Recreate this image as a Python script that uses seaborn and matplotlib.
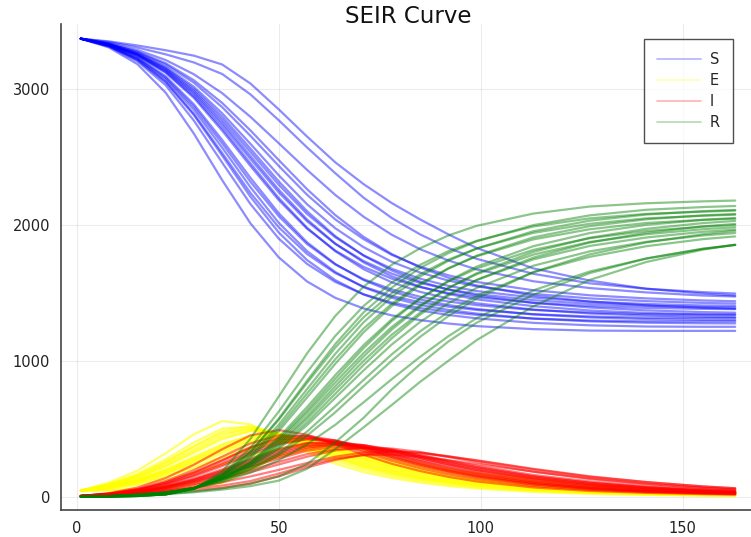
import pandas as pd
import numpy as np
import matplotlib
matplotlib.use('Agg')
import matplotlib.pyplot as plt
from matplotlib.lines import Line2D
import seaborn as sns

sns.set_theme(style='white')
plt.rcParams['font.family'] = ['DejaVu Sans']

# sampled days of the simulation
days = [1, 8, 15, 22, 29, 36, 43, 50, 57, 64, 71, 78, 85, 92, 99, 113, 127, 141, 155, 163]

# one list per stochastic run
S_runs = [
    [3370, 3305, 3183, 2973, 2671, 2329, 2011, 1761, 1584, 1463, 1385, 1334, 1299, 1274, 1255, 1233, 1222, 1220, 1220, 1220],
    [3370, 3312, 3204, 3028, 2767, 2458, 2153, 1899, 1713, 1580, 1489, 1428, 1388, 1359, 1338, 1311, 1296, 1290, 1290, 1290],
    [3370, 3316, 3217, 3056, 2818, 2529, 2235, 1982, 1786, 1645, 1545, 1477, 1430, 1398, 1374, 1343, 1326, 1317, 1315, 1315],
    [3370, 3314, 3213, 3049, 2807, 2510, 2207, 1944, 1741, 1593, 1488, 1418, 1370, 1337, 1312, 1279, 1261, 1252, 1250, 1250],
    [3370, 3318, 3222, 3072, 2847, 2568, 2277, 2015, 1807, 1653, 1541, 1464, 1411, 1374, 1347, 1310, 1290, 1280, 1276, 1275],
    [3370, 3320, 3229, 3083, 2869, 2600, 2317, 2064, 1859, 1709, 1600, 1525, 1471, 1436, 1409, 1374, 1355, 1343, 1340, 1340],
    [3370, 3321, 3232, 3094, 2887, 2625, 2346, 2086, 1872, 1712, 1594, 1509, 1451, 1410, 1381, 1341, 1319, 1307, 1301, 1300],
    [3370, 3325, 3245, 3119, 2934, 2693, 2433, 2182, 1972, 1811, 1691, 1604, 1542, 1498, 1468, 1427, 1403, 1389, 1382, 1380],
    [3370, 3325, 3246, 3125, 2945, 2711, 2453, 2198, 1979, 1806, 1674, 1577, 1507, 1458, 1423, 1377, 1348, 1333, 1324, 1321],
    [3370, 3327, 3251, 3133, 2960, 2734, 2485, 2239, 2027, 1860, 1734, 1641, 1573, 1525, 1491, 1446, 1419, 1404, 1395, 1392],
    [3370, 3327, 3253, 3140, 2973, 2754, 2507, 2259, 2040, 1862, 1724, 1621, 1545, 1491, 1452, 1402, 1370, 1352, 1341, 1338],
    [3370, 3328, 3257, 3147, 2986, 2775, 2536, 2295, 2081, 1909, 1776, 1677, 1604, 1551, 1513, 1465, 1435, 1418, 1407, 1404],
    [3370, 3329, 3259, 3154, 3000, 2797, 2561, 2320, 2101, 1917, 1774, 1664, 1582, 1524, 1480, 1426, 1392, 1371, 1358, 1354],
    [3370, 3330, 3264, 3163, 3016, 2821, 2596, 2365, 2152, 1975, 1836, 1728, 1649, 1590, 1547, 1492, 1459, 1439, 1426, 1421],
    [3370, 3332, 3271, 3179, 3046, 2866, 2655, 2434, 2222, 2040, 1895, 1779, 1693, 1629, 1580, 1519, 1482, 1459, 1444, 1438],
    [3370, 3333, 3275, 3190, 3064, 2897, 2695, 2477, 2263, 2072, 1912, 1785, 1686, 1611, 1554, 1479, 1436, 1408, 1390, 1383],
    [3370, 3337, 3287, 3213, 3108, 2969, 2795, 2601, 2405, 2220, 2060, 1927, 1821, 1738, 1672, 1585, 1535, 1503, 1480, 1473],
    [3370, 3345, 3305, 3255, 3195, 3110, 2960, 2770, 2570, 2380, 2200, 2050, 1930, 1830, 1750, 1640, 1570, 1530, 1505, 1495],
    [3370, 3350, 3320, 3285, 3245, 3180, 3040, 2850, 2650, 2460, 2300, 2160, 2040, 1930, 1830, 1680, 1590, 1530, 1495, 1480],
]

E_runs = [
    [45, 104, 191, 319, 459, 556, 532, 432, 326, 243, 181, 137, 104, 78, 60, 36, 21, 13, 8, 6],
    [45, 93, 167, 275, 399, 501, 516, 443, 347, 263, 200, 152, 117, 90, 70, 42, 26, 16, 10, 7],
    [45, 88, 154, 252, 367, 468, 501, 449, 363, 280, 215, 166, 128, 100, 78, 48, 30, 19, 12, 9],
    [45, 90, 157, 257, 374, 481, 518, 466, 377, 290, 223, 172, 133, 104, 81, 50, 31, 19, 12, 9],
    [45, 86, 147, 239, 348, 452, 501, 467, 387, 304, 236, 183, 143, 112, 88, 55, 35, 22, 14, 11],
    [45, 82, 141, 229, 334, 434, 485, 455, 378, 297, 230, 179, 139, 110, 86, 53, 33, 21, 14, 11],
    [45, 81, 137, 221, 322, 422, 483, 467, 397, 318, 248, 194, 152, 120, 95, 60, 38, 24, 16, 13],
    [45, 75, 125, 200, 293, 386, 453, 451, 393, 319, 251, 197, 155, 123, 98, 62, 40, 26, 17, 14],
    [45, 75, 123, 195, 285, 377, 448, 461, 414, 343, 274, 216, 172, 137, 110, 70, 46, 30, 20, 16],
    [45, 73, 119, 189, 276, 364, 434, 445, 399, 331, 264, 209, 166, 132, 106, 68, 45, 30, 20, 16],
    [45, 72, 117, 184, 267, 355, 427, 451, 417, 354, 287, 229, 183, 147, 118, 77, 51, 34, 23, 18],
    [45, 70, 113, 177, 258, 342, 414, 438, 405, 342, 277, 221, 177, 141, 114, 74, 49, 33, 22, 17],
    [45, 69, 111, 172, 249, 332, 406, 441, 420, 364, 299, 241, 194, 156, 126, 84, 55, 37, 25, 20],
    [45, 67, 106, 165, 239, 318, 389, 424, 406, 353, 292, 236, 190, 153, 124, 82, 55, 37, 25, 20],
    [45, 64, 99, 152, 219, 293, 363, 409, 406, 363, 307, 251, 203, 165, 134, 90, 61, 41, 28, 23],
    [45, 63, 96, 144, 207, 277, 347, 400, 414, 386, 335, 280, 229, 188, 154, 105, 71, 49, 34, 28],
    [45, 57, 84, 125, 177, 237, 299, 354, 382, 377, 340, 293, 246, 203, 169, 116, 82, 58, 41, 33],
    [45, 48, 60, 78, 95, 130, 210, 300, 340, 335, 315, 270, 220, 180, 150, 110, 70, 42, 26, 20],
    [45, 46, 50, 58, 70, 100, 200, 300, 345, 340, 300, 255, 215, 195, 170, 135, 85, 55, 32, 24],
]

I_runs = [
    [5, 26, 67, 137, 235, 349, 451, 490, 456, 384, 309, 242, 189, 146, 112, 68, 42, 28, 19, 15],
    [5, 23, 57, 115, 196, 294, 392, 452, 445, 394, 328, 264, 209, 164, 129, 79, 50, 33, 23, 18],
    [5, 21, 52, 104, 177, 265, 358, 424, 435, 399, 341, 280, 226, 179, 143, 90, 57, 38, 26, 21],
    [5, 22, 53, 105, 179, 269, 365, 436, 449, 414, 353, 291, 234, 187, 148, 93, 58, 38, 27, 22],
    [5, 21, 49, 97, 164, 247, 337, 410, 436, 413, 361, 303, 247, 199, 160, 102, 65, 43, 30, 25],
    [5, 19, 47, 92, 157, 236, 323, 396, 424, 403, 353, 296, 242, 194, 156, 100, 64, 42, 29, 24],
    [5, 19, 45, 88, 149, 225, 309, 384, 422, 412, 369, 314, 260, 211, 171, 111, 72, 48, 33, 27],
    [5, 17, 40, 78, 132, 201, 278, 351, 396, 396, 363, 313, 263, 216, 175, 115, 75, 50, 34, 28],
    [5, 17, 39, 75, 127, 192, 267, 340, 392, 403, 379, 334, 284, 236, 194, 130, 86, 57, 39, 32],
    [5, 16, 38, 73, 123, 186, 258, 329, 379, 389, 366, 322, 274, 228, 187, 125, 83, 56, 38, 31],
    [5, 16, 37, 70, 117, 177, 247, 317, 372, 393, 379, 342, 294, 248, 207, 141, 95, 64, 44, 36],
    [5, 15, 35, 67, 113, 171, 238, 306, 362, 382, 368, 330, 285, 240, 199, 135, 91, 62, 42, 34],
    [5, 15, 34, 64, 107, 162, 226, 294, 352, 382, 378, 349, 304, 260, 219, 151, 103, 70, 48, 39],
    [5, 15, 33, 62, 103, 156, 217, 281, 338, 367, 364, 336, 296, 254, 214, 148, 102, 70, 48, 39],
    [5, 14, 30, 56, 92, 140, 195, 256, 313, 351, 359, 342, 307, 267, 228, 160, 112, 77, 53, 44],
    [5, 13, 28, 51, 85, 128, 180, 237, 294, 341, 360, 354, 329, 292, 254, 184, 130, 92, 65, 53],
    [5, 12, 24, 43, 70, 106, 149, 197, 248, 294, 326, 335, 324, 298, 265, 201, 146, 107, 76, 62],
    [5, 17, 30, 45, 62, 82, 115, 170, 230, 280, 305, 310, 295, 268, 240, 185, 135, 95, 64, 52],
    [5, 15, 25, 35, 48, 65, 95, 150, 215, 270, 310, 330, 320, 295, 268, 205, 150, 108, 75, 62],
]

R_runs = [
    [0, 1, 6, 22, 55, 186, 426, 737, 1054, 1330, 1545, 1707, 1828, 1922, 1993, 2083, 2135, 2159, 2173, 2179],
    [0, 1, 5, 18, 58, 167, 359, 626, 915, 1183, 1403, 1576, 1706, 1807, 1883, 1988, 2048, 2081, 2097, 2105],
    [0, 1, 5, 17, 59, 159, 327, 566, 837, 1097, 1320, 1498, 1637, 1744, 1826, 1941, 2008, 2048, 2067, 2075],
    [0, 1, 5, 17, 60, 160, 330, 574, 853, 1123, 1356, 1539, 1683, 1792, 1879, 1998, 2070, 2111, 2131, 2139],
    [0, 1, 6, 17, 61, 154, 306, 529, 791, 1051, 1283, 1471, 1620, 1736, 1826, 1953, 2031, 2076, 2101, 2110],
    [0, 1, 5, 16, 60, 150, 295, 505, 759, 1011, 1237, 1420, 1568, 1680, 1769, 1893, 1968, 2014, 2037, 2045],
    [0, 1, 6, 17, 62, 148, 282, 483, 729, 978, 1209, 1403, 1557, 1679, 1773, 1908, 1991, 2041, 2070, 2080],
    [0, 3, 10, 23, 61, 140, 256, 436, 659, 894, 1115, 1306, 1460, 1583, 1679, 1816, 1902, 1955, 1987, 1998],
    [0, 3, 12, 25, 63, 140, 252, 421, 635, 868, 1093, 1293, 1457, 1589, 1693, 1843, 1940, 2000, 2037, 2051],
    [0, 4, 12, 26, 62, 136, 244, 409, 616, 841, 1057, 1249, 1407, 1536, 1637, 1781, 1874, 1931, 1968, 1982],
    [0, 4, 13, 28, 64, 135, 240, 393, 591, 813, 1031, 1230, 1399, 1535, 1644, 1801, 1905, 1971, 2013, 2029],
    [0, 4, 14, 29, 63, 132, 232, 381, 572, 787, 999, 1192, 1354, 1488, 1594, 1746, 1845, 1907, 1949, 1965],
    [0, 4, 14, 30, 64, 129, 227, 365, 547, 757, 969, 1166, 1340, 1480, 1595, 1759, 1870, 1942, 1989, 2007],
    [0, 4, 15, 30, 63, 127, 220, 351, 526, 727, 929, 1120, 1286, 1424, 1536, 1699, 1805, 1875, 1922, 1940],
    [0, 4, 15, 31, 63, 121, 207, 321, 479, 666, 859, 1048, 1217, 1359, 1478, 1651, 1765, 1843, 1895, 1915],
    [0, 4, 15, 31, 64, 118, 198, 306, 449, 621, 813, 1001, 1176, 1329, 1458, 1652, 1783, 1871, 1931, 1956],
    [0, 4, 15, 31, 62, 108, 177, 268, 385, 529, 694, 865, 1029, 1181, 1314, 1518, 1657, 1752, 1823, 1852],
    [0, 3, 9, 20, 38, 62, 98, 150, 240, 400, 580, 790, 975, 1142, 1280, 1485, 1645, 1753, 1825, 1853],
    [0, 3, 8, 18, 33, 52, 78, 118, 205, 350, 510, 675, 845, 1000, 1152, 1400, 1595, 1727, 1818, 1854],
]

labels = ['S', 'E', 'I', 'R']
colors = ['#0000ff', '#ffff00', '#ff0000', '#008000']
line_alpha = [0.45, 0.6, 0.5, 0.45]

# long table: one row per (compartment, run, day)
rows = []
for lab, runs in zip(labels, [S_runs, E_runs, I_runs, R_runs]):
    for k, run in enumerate(runs):
        for d, v in zip(days, run):
            rows.append((lab, k, d, v))
df = pd.DataFrame(rows, columns=['comp', 'run', 'day', 'value'])

fig = plt.figure(figsize=(7.51, 5.37), dpi=100)
ax = fig.add_axes([61 / 751, 27 / 537, 694 / 751, 486 / 537])

for lab, col, a in zip(labels, colors, line_alpha):
    sns.lineplot(
        data=df[df['comp'] == lab], x='day', y='value', units='run',
        estimator=None, sort=False, color=col,
        alpha=a, linewidth=1.6, legend=False, ax=ax,
    )

ax.set_xlim(-3.9, 167.9)
ax.set_ylim(-98, 3478)
ax.set_xticks([0, 50, 100, 150])
ax.set_yticks([0, 1000, 2000, 3000])
ax.set_xlabel('')
ax.set_ylabel('')
ax.grid(True, color='#000000', alpha=0.08, linewidth=0.8)
for side in ['top', 'right']:
    ax.spines[side].set_visible(False)
for side in ['left', 'bottom']:
    ax.spines[side].set_color('#444444')
    ax.spines[side].set_linewidth(1.2)
ax.tick_params(axis='both', direction='in', length=5, width=1, color='#444444',
               labelsize=10.5, labelcolor='#222222', pad=8)

ax.set_title('SEIR Curve', fontsize=16.5, color='#111111', pad=1)

handles = [Line2D([0], [0], color=c, alpha=0.3, lw=1.2) for c in colors]
leg = ax.legend(handles, labels, loc='upper right',
                bbox_to_anchor=(733 / 751, 1 - 39 / 537), bbox_transform=fig.transFigure,
                borderaxespad=0, fontsize=10.5, frameon=True, fancybox=False,
                handlelength=3.0, handletextpad=0.6, labelspacing=0.4, borderpad=0.9)
leg.get_frame().set_edgecolor('#222222')
leg.get_frame().set_linewidth(1.0)

fig.savefig('out.png', dpi=100)
